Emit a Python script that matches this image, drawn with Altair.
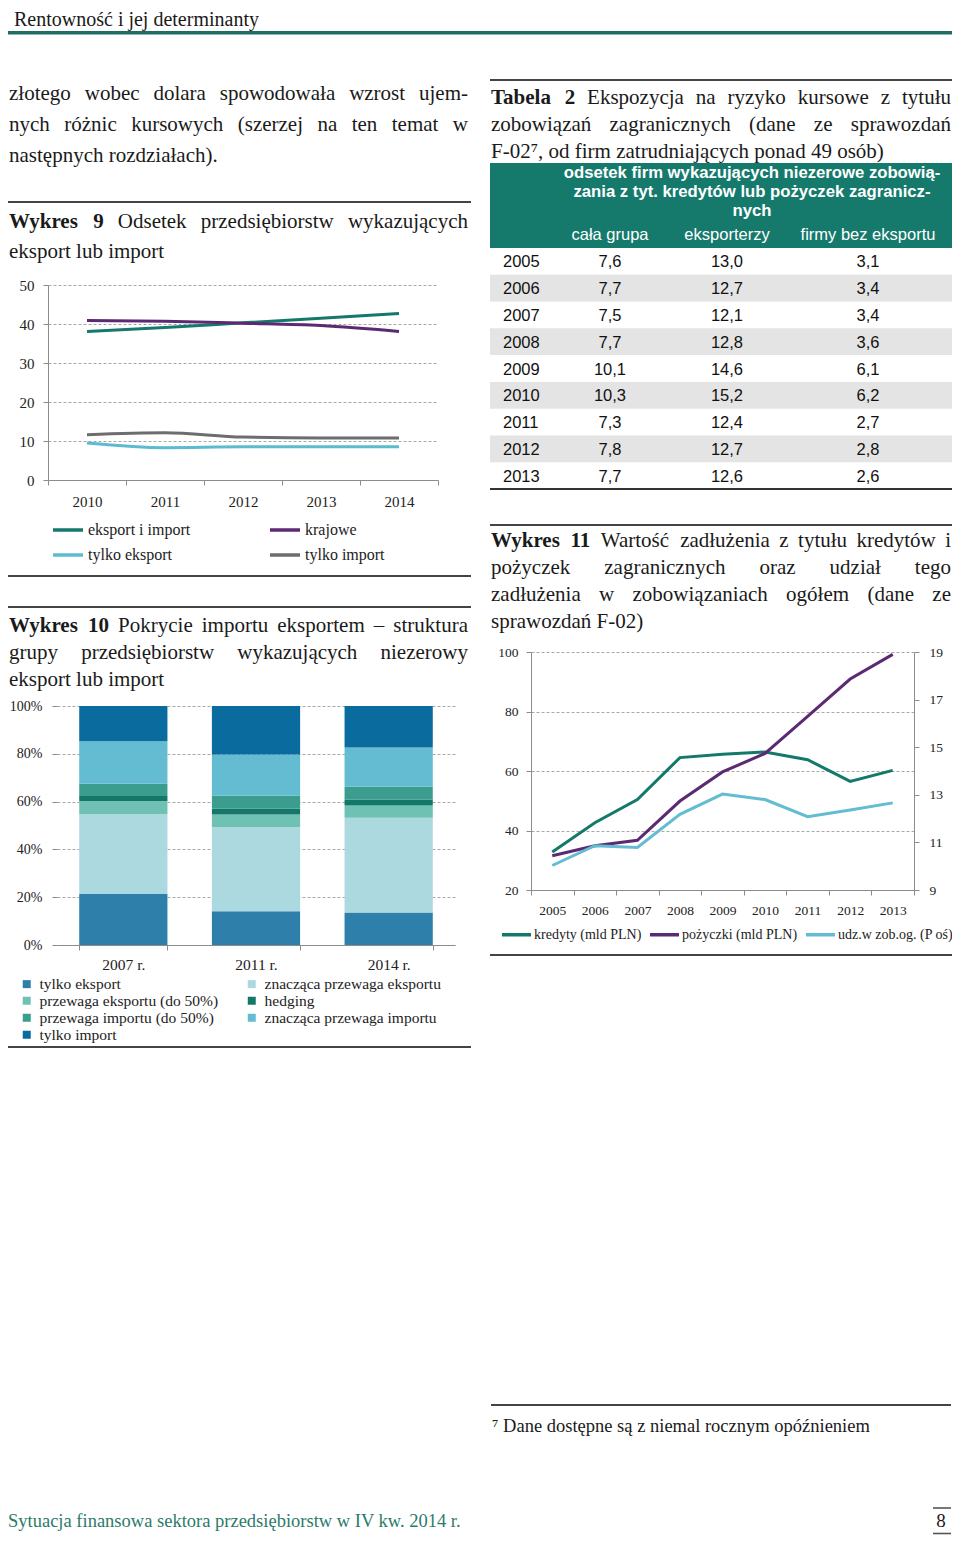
import altair as alt
import pandas as pd

# ------------------------------------------------------------------ data
years9 = ["2010", "2011", "2012", "2013", "2014"]
series9 = ["eksport i import", "krajowe", "tylko eksport", "tylko import"]
eksport_i_import = [38.1, 39.1, 40.3, 41.5, 42.7]
krajowe = [40.9, 40.7, 40.2, 39.6, 38.1]
tylko_eksport = [9.5, 8.3, 8.5, 8.5, 8.5]
tylko_import = [11.6, 12.1, 11.0, 10.8, 10.8]
colors9 = ["#14796b", "#5b2a72", "#5bbcd1", "#6d6d6d"]

years10 = ["2007 r.", "2011 r.", "2014 r."]
segments10 = ["tylko eksport", "znacząca przewaga eksportu", "przewaga eksportu (do 50%)",
              "hedging", "przewaga importu (do 50%)", "znacząca przewaga importu", "tylko import"]
shares2007 = [21.3, 33.4, 5.5, 2.1, 5.2, 17.7, 14.8]
shares2011 = [14.1, 35.3, 5.2, 2.4, 5.5, 17.2, 20.3]
shares2014 = [13.6, 39.6, 5.2, 2.5, 5.3, 16.4, 17.4]
colors10 = ["#2f7fab", "#acd9e0", "#6fc1b3", "#13786a", "#3a9d8d", "#63bcd2", "#0a6b9f"]

years_t = ["2005", "2006", "2007", "2008", "2009", "2010", "2011", "2012", "2013"]
cala_grupa = [7.6, 7.7, 7.5, 7.7, 10.1, 10.3, 7.3, 7.8, 7.7]
eksporterzy = [13.0, 12.7, 12.1, 12.8, 14.6, 15.2, 12.4, 12.7, 12.6]
bez_eksportu = [3.1, 3.4, 3.4, 3.6, 6.1, 6.2, 2.7, 2.8, 2.6]

years11 = ["2005", "2006", "2007", "2008", "2009", "2010", "2011", "2012", "2013"]
series11 = ["kredyty (mld PLN)", "pożyczki (mld PLN)", "udz.w zob.og. (P oś)"]
kredyty = [32.8, 42.6, 50.4, 64.5, 65.6, 66.4, 63.8, 56.5, 60.2]
pozyczki = [31.5, 34.9, 36.7, 49.9, 59.7, 65.9, 78.4, 90.9, 99.2]
udzial = [10.03, 10.86, 10.79, 12.18, 13.03, 12.80, 12.08, 12.36, 12.66]
colors11 = ["#14796b", "#5b2a72", "#62bcd2"]

# ------------------------------------------------------------------ layout helpers
W, H = 944, 1527
SERIF = "Liberation Serif"
SANS = "Liberation Sans"
INK = "#1a1a1a"


def LX(x):
    return x - 4


def RX(x):
    return x - 12


def Y(y):
    return y - 8


# Times-compatible advance widths (Liberation Serif), per 1000 em
_REG = {" ": 250, "(": 333, ")": 333, ",": 250, "-": 333, ".": 250, "%": 833, "–": 500,
        "A": 722, "D": 722, "E": 611, "F": 556, "L": 611, "N": 722, "O": 722, "P": 556,
        "T": 611, "W": 944,
        "a": 444, "b": 500, "c": 444, "d": 500, "e": 444, "f": 333, "g": 500, "h": 500,
        "i": 278, "j": 278, "k": 500, "l": 278, "m": 778, "n": 500, "o": 500, "p": 500,
        "r": 333, "s": 389, "t": 278, "u": 500, "w": 722, "y": 500, "z": 444,
        "ą": 444, "ę": 444, "ć": 444, "ł": 278, "ń": 500, "ó": 500, "ś": 389, "ź": 444, "ż": 444}
_BOLD = {" ": 250, "W": 1000, "T": 667, "y": 500, "k": 556, "r": 444, "e": 444, "s": 389,
         "a": 500, "b": 556, "l": 278}


def tw(s, size, bold=False):
    t = _BOLD if bold else _REG
    return sum(t.get(ch, 500) for ch in s) * size / 1000.0


def justify(tokens, x0, x1, y, size):
    ws = [tw(w, size, b) for w, b in tokens]
    gap = (x1 - x0 - sum(ws)) / (len(tokens) - 1)
    out, x = [], x0
    for i, ((w, b), wd) in enumerate(zip(tokens, ws)):
        last = i == len(tokens) - 1
        out.append((x1 if last else x, y, w, b, last))
        x += wd + gap
    return out


def words(items, size, weight="normal", align="left", font=SERIF, color=INK, baseline="alphabetic"):
    df = pd.DataFrame(items, columns=["x", "y", "t"])
    return alt.Chart(df).mark_text(
        align=align, baseline=baseline, font=font, fontSize=size, fontWeight=weight, color=color
    ).encode(
        x=alt.X("x:Q", scale=None, axis=None),
        y=alt.Y("y:Q", scale=None, axis=None),
        text="t:N",
    )


def rules(items, color, width):
    df = pd.DataFrame(items, columns=["x", "x2", "y"])
    return alt.Chart(df).mark_rule(color=color, strokeWidth=width).encode(
        x=alt.X("x:Q", scale=None, axis=None),
        x2="x2:Q",
        y=alt.Y("y:Q", scale=None, axis=None),
    )


def yaxis(orient, offset, values, size, pad, grid=True, fmt=None, domain=True):
    kw = dict(orient=orient, offset=offset, values=values, grid=grid, title=None,
              labelFont=SERIF, labelFontSize=size, labelColor="#222", labelPadding=pad,
              tickSize=5, tickColor="#8c8c8c", domain=domain, domainColor="#8c8c8c",
              gridColor="#a8a8a8", gridDash=[3, 2], gridWidth=1)
    if fmt:
        kw["format"] = fmt
    return alt.Axis(**kw)


def xaxis(offset, size, pad):
    return alt.Axis(orient="bottom", offset=offset, tickBand="extent", labelAngle=0, grid=False,
                    title=None, labelFont=SERIF, labelFontSize=size, labelColor="#222",
                    labelPadding=pad, tickSize=5, tickColor="#8c8c8c", domainColor="#8c8c8c")


layers = []

# ------------------------------------------------------------------ page text
PS = 21
LL, LR = LX(5), LX(464)      # left column text margins
RL, RR = RX(495), RX(955)    # right column text margins


def T(s):
    return [(w, w in ("Wykres", "Tabela", "9", "10", "11", "2")) for w in s.split(" ")]


just_lines = [
    (T("złotego wobec dolara spowodowała wzrost ujem-"), LL, LR, Y(100)),
    (T("nych różnic kursowych (szerzej na ten temat w"), LL, LR, Y(131)),
    (T("Wykres 9 Odsetek przedsiębiorstw wykazujących"), LL, LR, Y(228)),
    (T("Wykres 10 Pokrycie importu eksportem – struktura"), LL, LR, Y(632)),
    (T("grupy przedsiębiorstw wykazujących niezerowy"), LL, LR, Y(659)),
    (T("Tabela 2 Ekspozycja na ryzyko kursowe z tytułu"), RL, RR, Y(104)),
    (T("zobowiązań zagranicznych (dane ze sprawozdań"), RL, RR, Y(131)),
    (T("Wykres 11 Wartość zadłużenia z tytułu kredytów i"), RL, RR, Y(547)),
    (T("pożyczek zagranicznych oraz udział tego"), RL, RR, Y(574)),
    (T("zadłużenia w zobowiązaniach ogółem (dane ze"), RL, RR, Y(601)),
]
reg_left, reg_right, bold_left = [], [], []
for toks, x0, x1, yy in just_lines:
    for x, y, w, b, last in justify(toks, x0, x1, yy, PS):
        if last:
            reg_right.append((x, y, w))
        elif b:
            bold_left.append((x, y, w))
        else:
            reg_left.append((x, y, w))
reg_left += [
    (LL, Y(162), "następnych rozdziałach)."),
    (LL, Y(258), "eksport lub import"),
    (LL, Y(686), "eksport lub import"),
    (RL, Y(158), "F-02⁷, od firm zatrudniających ponad 49 osób)"),
    (RL, Y(628), "sprawozdań F-02)"),
]
layers.append(words([(6, 17.5, "Rentowność i jej determinanty")], 20))
layers.append(rules([(0, W, 24.8)], "#1e6c62", 3.5))
layers.append(words(reg_left, PS))
layers.append(words(reg_right, PS, align="right"))
layers.append(words(bold_left, PS, weight="bold"))

# separators
layers.append(rules([
    (LX(4), LX(467), Y(202)), (LX(4), LX(467), Y(576)), (LX(4), LX(467), Y(607)),
    (LX(4), LX(467), Y(1047)),
    (RX(494), RX(956), Y(80)), (RX(494), RX(956), Y(525)), (RX(494), RX(956), Y(955)),
    (RX(495), RX(955), Y(1405)),
], "#444444", 1.8))

# footnote + footer
layers.append(words([(RX(496), Y(1432), "⁷ Dane dostępne są z niemal rocznym opóźnieniem")], 18.5))
layers.append(words([(LX(4), 1519, "Sytuacja finansowa sektora przedsiębiorstw w IV kw. 2014 r.")],
                    18.5, color="#2c7a6a"))
layers.append(words([(RX(945), 1519, "8")], 19, align="center"))
layers.append(rules([(RX(937), RX(955), 1500), (RX(937), RX(955), 1525.5)], "#555555", 1.6))

# ------------------------------------------------------------------ Wykres 9
df9 = pd.DataFrame({
    "rok": years9 * 4,
    "seria": [s for s in series9 for _ in years9],
    "v": eksport_i_import + krajowe + tylko_eksport + tylko_import,
})
c9 = alt.Chart(df9).mark_line(strokeWidth=3, interpolate="monotone").encode(
    x=alt.X("rok:O", bandPosition=0.5,
            scale=alt.Scale(type="band", domain=years9, range=[LX(44), LX(434)],
                            paddingInner=0, paddingOuter=0),
            axis=xaxis(Y(480) - H, 15, 9)),
    y=alt.Y("v:Q", scale=alt.Scale(domain=[0, 50], range=[Y(480), Y(285)], nice=False, zero=False),
            axis=yaxis("left", -LX(44), [0, 10, 20, 30, 40, 50], 15, 9)),
    color=alt.Color("seria:N", scale=alt.Scale(domain=series9, range=colors9),
                    legend=alt.Legend(orient="none", legendX=LX(47), legendY=Y(513), columns=2,
                                      direction="horizontal",
                                      title=None, symbolType="stroke", symbolStrokeWidth=3.5,
                                      symbolSize=900, labelFont=SERIF, labelFontSize=16,
                                      labelColor="#222", labelOffset=3, columnPadding=72,
                                      rowPadding=-11, labelLimit=300, padding=0)),
)
layers.append(c9)

# ------------------------------------------------------------------ Wykres 10
rows10 = []
for yr, sh in zip(years10, [shares2007, shares2011, shares2014]):
    for k, (seg, v) in enumerate(zip(segments10, sh)):
        rows10.append({"rok": yr, "seg": seg, "k": k, "v": v})
df10 = pd.DataFrame(rows10)
c10 = alt.Chart(df10).mark_bar().encode(
    x=alt.X("rok:O",
            scale=alt.Scale(type="band", domain=years10, range=[LX(53), LX(451)],
                            paddingInner=0.335, paddingOuter=0.1675),
            axis=xaxis(Y(945) - H, 15.5, 7)),
    y=alt.Y("v:Q", stack="normalize",
            scale=alt.Scale(domain=[0, 1], range=[Y(945), Y(706)], nice=False),
            axis=yaxis("left", -LX(53), [0, 0.2, 0.4, 0.6, 0.8, 1.0], 14, 10, fmt="%", domain=False)),
    color=alt.Color("seg:N", scale=alt.Scale(domain=segments10, range=colors10),
                    legend=alt.Legend(orient="none", legendX=LX(15), legendY=Y(976), columns=2,
                                      direction="horizontal",
                                      title=None, symbolType="square", symbolSize=64,
                                      symbolStrokeWidth=0, labelFont=SERIF, labelFontSize=15.5,
                                      labelColor="#222", labelOffset=5, columnPadding=25,
                                      rowPadding=0, labelLimit=300, padding=0)),
    order=alt.Order("k:Q", sort="ascending"),
)
layers.append(c10)

# ------------------------------------------------------------------ Tabela 2
fmt = lambda vals: [f"{v:.1f}".replace(".", ",") for v in vals]
dft = pd.DataFrame({
    "rok": years_t,
    "a": fmt(cala_grupa),
    "b": fmt(eksporterzy),
    "c": fmt(bez_eksportu),
    "shade": [i % 2 == 1 for i in range(len(years_t))],
})
yband = alt.Y("rok:O", title=None, axis=None,
              scale=alt.Scale(type="band", domain=years_t, range=[Y(248), Y(489)],
                              paddingInner=0, paddingOuter=0))
layers.append(
    alt.Chart(pd.DataFrame({"h": [0]})).mark_rect(color="#157a6c").encode(
        x=alt.value(RX(494)), x2=alt.value(RX(956)), y=alt.value(Y(163)), y2=alt.value(Y(248)))
)
layers.append(words([
    (RX(756), Y(178), "odsetek firm wykazujących niezerowe zobowią-"),
    (RX(756), Y(197), "zania z tyt. kredytów lub pożyczek zagranicz-"),
    (RX(756), Y(216), "nych"),
], 16.7, weight="bold", align="center", font=SANS, color="white"))
layers.append(words([
    (RX(614), Y(240), "cała grupa"), (RX(731), Y(240), "eksporterzy"),
    (RX(872), Y(240), "firmy bez eksportu"),
], 16.5, align="center", font=SANS, color="white"))
layers.append(
    alt.Chart(dft).transform_filter("datum.shade").mark_rect(color="#e4e4e4").encode(
        x=alt.value(RX(494)), x2=alt.value(RX(956)), y=yband)
)
layers.append(
    alt.Chart(dft).mark_text(align="left", baseline="middle", font=SANS, fontSize=16.5,
                             color="#111", dy=1).encode(x=alt.value(RX(507)), y=yband, text="rok:N")
)
for col, cx in [("a", 614), ("b", 731), ("c", 872)]:
    layers.append(
        alt.Chart(dft).mark_text(align="center", baseline="middle", font=SANS, fontSize=16.5,
                                 color="#111", dy=1).encode(x=alt.value(RX(cx)), y=yband,
                                                            text=f"{col}:N")
    )
layers.append(rules([(RX(494), RX(956), Y(489))], "#333333", 2))

# ------------------------------------------------------------------ Wykres 11
x11 = alt.Scale(type="band", domain=years11, range=[RX(535), RX(918)], paddingInner=0, paddingOuter=0)
df11a = pd.DataFrame({
    "rok": years11 * 2,
    "seria": [s for s in series11[:2] for _ in years11],
    "v": kredyty + pozyczki,
})
df11b = pd.DataFrame({"rok": years11, "seria": series11[2], "v": udzial})
c11a = alt.Chart(df11a).mark_line(strokeWidth=3).encode(
    x=alt.X("rok:O", bandPosition=0.5, scale=x11, axis=xaxis(Y(890) - H, 13.5, 8)),
    y=alt.Y("v:Q", scale=alt.Scale(domain=[20, 100], range=[Y(890), Y(652)], nice=False, zero=False),
            axis=yaxis("left", -RX(535), [20, 40, 60, 80, 100], 13.5, 8)),
    color=alt.Color("seria:N", scale=alt.Scale(domain=series11, range=colors11),
                    legend=alt.Legend(orient="none", legendX=RX(504), legendY=Y(918), columns=3,
                                      direction="horizontal",
                                      title=None, symbolType="stroke", symbolStrokeWidth=3.5,
                                      symbolSize=841, labelFont=SERIF, labelFontSize=14,
                                      labelColor="#222", labelOffset=1, columnPadding=1,
                                      labelLimit=300, padding=0)),
)
c11b = alt.Chart(df11b).mark_line(strokeWidth=3).encode(
    x=alt.X("rok:O", bandPosition=0.5, scale=x11, axis=None),
    y=alt.Y("v:Q", scale=alt.Scale(domain=[9, 19], range=[Y(890), Y(652)], nice=False, zero=False),
            axis=yaxis("right", RX(918) - W, [9, 11, 13, 15, 17, 19], 13.5, 10, grid=False)),
    color=alt.Color("seria:N", scale=alt.Scale(domain=series11, range=colors11), legend=None),
)
layers.append(c11a)
layers.append(c11b)

chart = alt.layer(*layers).resolve_scale(
    x="independent", y="independent", color="independent"
).properties(
    width=W, height=H, padding=0, autosize=alt.AutoSizeParams(type="none")
).configure_view(stroke=None)

chart.save("out.html", embed_options={"renderer": "svg", "actions": False})
